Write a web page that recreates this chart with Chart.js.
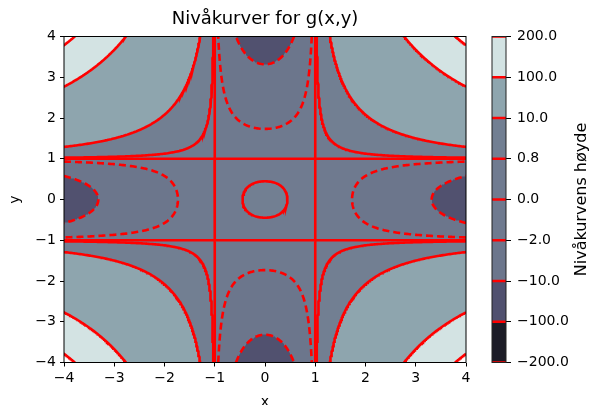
<!DOCTYPE html>
<html>
<head>
<meta charset="utf-8">
<script src="https://cdn.jsdelivr.net/npm/chart.js@4.4.1/dist/chart.umd.min.js"></script>
<style>
  html, body { margin: 0; padding: 0; background: #fff; }
  #wrap { position: relative; width: 590px; height: 405px; }
  #main { position: absolute; left: 0; top: 0; }
  #cbar { position: absolute; left: 480px; top: 0; }
</style>
</head>
<body>
<div id="wrap">
  <canvas id="main" width="480" height="405"></canvas>
  <canvas id="cbar" width="110" height="405"></canvas>
</div>
<script>
// contour levels and the colours of the bands between them (bone colormap)
const levels = [-200, -100, -10, -2, 0, 0.8, 10, 100, 200];
const levelLabels = ['\u2212200.0', '\u2212100.0', '\u221210.0', '\u22122.0', '0.0', '0.8', '10.0', '100.0', '200.0'];
const bandColors = ['#1c1c27', '#51516f', '#6c768c', '#6f7a8f', '#707b90', '#727f92', '#8ea5ae', '#d3e3e3'];
const axisMin = -4, axisMax = 4;

// the plotted function
function g(x, y) {
    return (x * x - 1) * (y * y - 1);
}

const FONT = 'DejaVu Sans';
const fmt = v => (v < 0 ? '\u2212' + Math.abs(v) : String(v));

// sample grid for the contour lines
const N = 300;
const gx = [];
for (let i = 0; i < N; i++) gx.push(axisMin + (axisMax - axisMin) * i / (N - 1));
const V = gx.map(xv => gx.map(yv => g(xv, yv)));

// marching squares, segments chained into polylines, gaps as null points
function contourLine(c) {
    const pts = {};
    const segs = [];
    function ep(key, x0, y0, v0, x1, y1, v1) {
        if (!(key in pts)) {
            const t = (c - v0) / (v1 - v0);
            pts[key] = { x: x0 + t * (x1 - x0), y: y0 + t * (y1 - y0) };
        }
        return key;
    }
    for (let i = 0; i < N - 1; i++) {
        for (let j = 0; j < N - 1; j++) {
            const v00 = V[i][j], v10 = V[i + 1][j], v11 = V[i + 1][j + 1], v01 = V[i][j + 1];
            const s00 = v00 > c, s10 = v10 > c, s11 = v11 > c, s01 = v01 > c;
            let kB = null, kR = null, kT = null, kL = null;
            if (s00 !== s10) kB = ep('h' + i + '_' + j, gx[i], gx[j], v00, gx[i + 1], gx[j], v10);
            if (s10 !== s11) kR = ep('v' + (i + 1) + '_' + j, gx[i + 1], gx[j], v10, gx[i + 1], gx[j + 1], v11);
            if (s01 !== s11) kT = ep('h' + i + '_' + (j + 1), gx[i], gx[j + 1], v01, gx[i + 1], gx[j + 1], v11);
            if (s00 !== s01) kL = ep('v' + i + '_' + j, gx[i], gx[j], v00, gx[i], gx[j + 1], v01);
            const ks = [kB, kR, kT, kL].filter(k => k !== null);
            if (ks.length === 2) segs.push(ks);
            else if (ks.length === 4) {
                const centre = (v00 + v10 + v11 + v01) / 4 > c;
                if (centre === s00) { segs.push([kB, kR]); segs.push([kT, kL]); }
                else { segs.push([kL, kB]); segs.push([kR, kT]); }
            }
        }
    }
    const byKey = {};
    segs.forEach((s, n) => {
        (byKey[s[0]] = byKey[s[0]] || []).push(n);
        (byKey[s[1]] = byKey[s[1]] || []).push(n);
    });
    const used = new Array(segs.length).fill(false);
    function extend(chain, atEnd) {
        while (true) {
            const k = atEnd ? chain[chain.length - 1] : chain[0];
            const next = (byKey[k] || []).find(n => !used[n]);
            if (next === undefined) break;
            used[next] = true;
            const s = segs[next];
            const other = s[0] === k ? s[1] : s[0];
            if (atEnd) chain.push(other); else chain.unshift(other);
        }
    }
    const out = [];
    segs.forEach((s, n) => {
        if (used[n]) return;
        used[n] = true;
        const chain = [s[0], s[1]];
        extend(chain, true);
        extend(chain, false);
        chain.forEach(k => out.push(pts[k]));
        out.push({ x: null, y: null });
    });
    return out;
}

const lineSets = levels.map(c => ({
    data: contourLine(c),
    showLine: true,
    spanGaps: false,
    pointRadius: 0,
    borderColor: '#ff0000',
    borderWidth: 2.6,
    borderDash: c < 0 ? [7, 4] : [],
    tension: 0,
    clip: 0
}));

const toRgb = hex => [1, 3, 5].map(p => parseInt(hex.slice(p, p + 2), 16));

const bandsPlugin = {
    id: 'bands',
    beforeDatasetsDraw(chart) {
        const { ctx, chartArea: a, scales: { x, y } } = chart;
        const w = Math.round(a.right - a.left), h = Math.round(a.bottom - a.top);
        const off = document.createElement('canvas');
        off.width = w; off.height = h;
        const octx = off.getContext('2d');
        const img = octx.createImageData(w, h);
        const rgb = bandColors.map(toRgb);
        for (let py = 0; py < h; py++) {
            const yv = y.getValueForPixel(a.top + py + 0.5);
            for (let px = 0; px < w; px++) {
                const v = g(x.getValueForPixel(a.left + px + 0.5), yv);
                let k = -1;
                for (let b = 0; b < bandColors.length; b++) {
                    if (v > levels[b] && v <= levels[b + 1]) { k = b; break; }
                }
                if (k < 0) continue;
                const o = (py * w + px) * 4;
                img.data[o] = rgb[k][0]; img.data[o + 1] = rgb[k][1]; img.data[o + 2] = rgb[k][2]; img.data[o + 3] = 255;
            }
        }
        octx.putImageData(img, 0, 0);
        ctx.drawImage(off, a.left, a.top);
    },
    afterDatasetsDraw(chart) {
        const { ctx, chartArea: a } = chart;
        ctx.save();
        ctx.strokeStyle = '#000';
        ctx.lineWidth = 1;
        ctx.strokeRect(a.left, a.top, a.right - a.left, a.bottom - a.top);
        ctx.restore();
    },
    afterDraw(chart) {
        // title centred over the plot area, as matplotlib does
        const { ctx, chartArea: a } = chart;
        ctx.save();
        ctx.fillStyle = '#000';
        ctx.font = '18px "' + FONT + '"';
        ctx.textAlign = 'center';
        ctx.textBaseline = 'middle';
        ctx.fillText('Nivåkurver for g(x,y)', (a.left + a.right) / 2, 19);
        ctx.restore();
    }
};

const tickFont = { family: FONT, size: 14 };

new Chart(document.getElementById('main'), {
    type: 'scatter',
    data: { datasets: lineSets },
    options: {
        responsive: false,
        animation: false,
        layout: { padding: { left: 0, right: 14, top: 36.5, bottom: 0 } },
        plugins: {
            legend: { display: false },
            tooltip: { enabled: false }
        },
        scales: {
            x: {
                min: axisMin, max: axisMax,
                afterFit: s => { s.height = 42.5; },
                border: { display: false },
                grid: { drawOnChartArea: false, tickLength: 4, color: '#000' },
                ticks: { stepSize: 1, color: '#000', font: tickFont, padding: 3, callback: fmt, maxRotation: 0 },
                title: { display: true, text: 'x', color: '#000', font: tickFont, padding: { top: 0, bottom: -6 } }
            },
            y: {
                min: axisMin, max: axisMax,
                afterFit: s => { s.width = 64; },
                border: { display: false },
                grid: { drawOnChartArea: false, tickLength: 4, color: '#000' },
                ticks: { stepSize: 1, color: '#000', font: tickFont, padding: 4, callback: fmt },
                title: { display: true, text: 'y', color: '#000', font: tickFont, padding: { top: 7, bottom: 0 } }
            }
        }
    },
    plugins: [bandsPlugin]
});

// colour bar
const cbarPlugin = {
    id: 'cbarLines',
    afterDatasetsDraw(chart) {
        const { ctx, chartArea: a, scales: { y } } = chart;
        ctx.save();
        ctx.beginPath();
        ctx.rect(a.left, a.top, a.right - a.left, a.bottom - a.top);
        ctx.clip();
        ctx.strokeStyle = '#ff0000';
        ctx.lineWidth = 2.6;
        levels.forEach((c, i) => {
            const yp = y.getPixelForValue(i);
            ctx.beginPath();
            ctx.moveTo(a.left, yp);
            ctx.lineTo(a.right, yp);
            ctx.stroke();
        });
        ctx.restore();
        ctx.save();
        ctx.strokeStyle = '#222';
        ctx.lineWidth = 1;
        ctx.strokeRect(a.left, a.top, a.right - a.left, a.bottom - a.top);
        ctx.restore();
    },
    afterDraw(chart) {
        const { ctx, chartArea: a } = chart;
        ctx.save();
        ctx.translate(102, (a.top + a.bottom) / 2);
        ctx.rotate(-Math.PI / 2);
        ctx.fillStyle = '#000';
        ctx.font = '16px "' + FONT + '"';
        ctx.textAlign = 'center';
        ctx.textBaseline = 'middle';
        ctx.fillText('Nivåkurvens høyde', 0, 0);
        ctx.restore();
    }
};

new Chart(document.getElementById('cbar'), {
    type: 'bar',
    data: {
        labels: [''],
        datasets: bandColors.map(c => ({
            data: [1],
            backgroundColor: c,
            borderWidth: 0,
            barPercentage: 1,
            categoryPercentage: 1
        }))
    },
    options: {
        responsive: false,
        animation: false,
        layout: { padding: { left: 12, right: 0, top: 36.5, bottom: 42.5 } },
        plugins: { legend: { display: false }, tooltip: { enabled: false } },
        scales: {
            x: { display: false, stacked: true },
            y: {
                stacked: true,
                position: 'right',
                min: 0, max: 8,
                afterFit: s => { s.width = 84; },
                border: { display: false },
                grid: { drawOnChartArea: false, tickLength: 5, color: '#000' },
                ticks: { stepSize: 1, color: '#000', font: tickFont, padding: 6, callback: v => levelLabels[v] }
            }
        }
    },
    plugins: [cbarPlugin]
});
</script>
</body>
</html>
